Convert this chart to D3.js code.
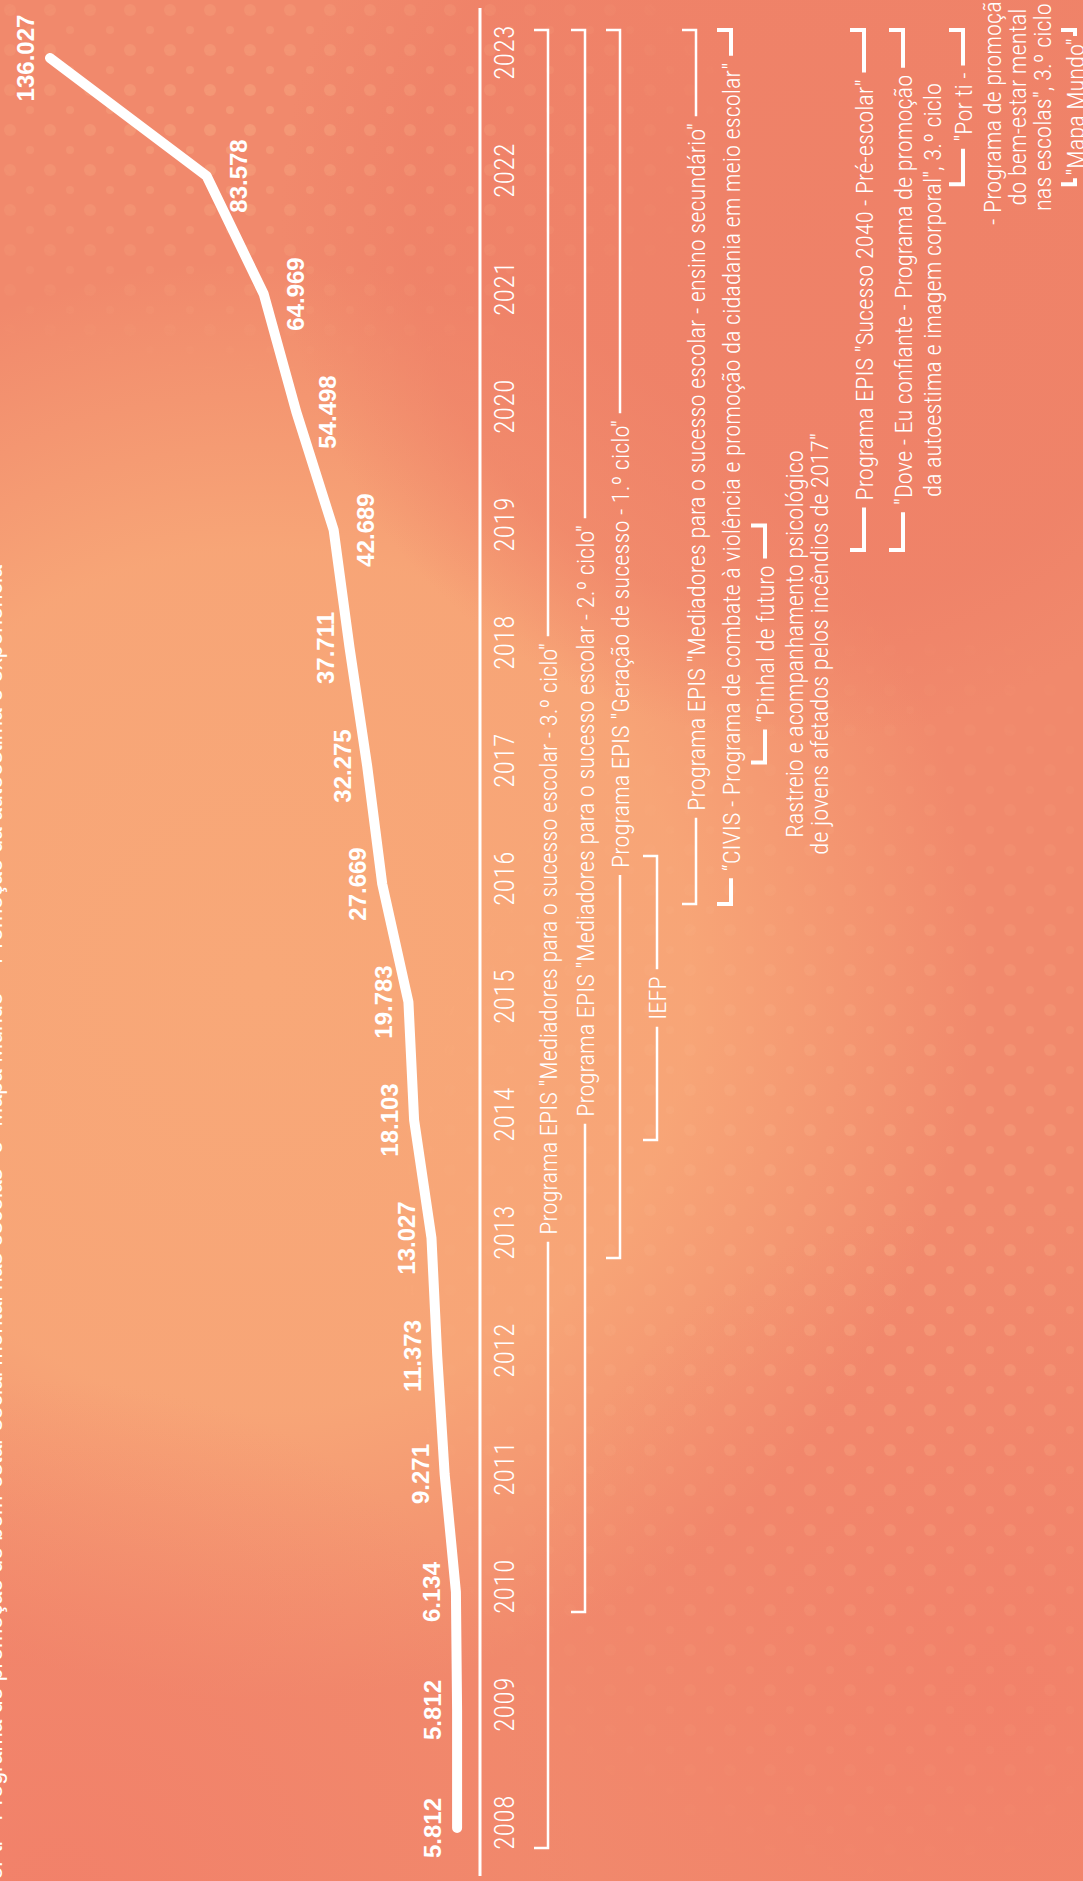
<!DOCTYPE html>
<html>
<head>
<meta charset="utf-8">
<script src="https://cdn.jsdelivr.net/npm/d3@7"></script>
<style>
  html, body { margin: 0; padding: 0; background: #F1896C; overflow: hidden; }
  svg { display: block; }
</style>
</head>
<body>
<svg id="chart"></svg>
<script>
// ---- data ----
const years = [2008, 2009, 2010, 2011, 2012, 2013, 2014, 2015, 2016, 2017, 2018, 2019, 2020, 2021, 2022, 2023];
const participants = [5812, 5812, 6134, 9271, 11373, 13027, 18103, 19783, 27669, 32275, 37711, 42689, 54498, 64969, 83578, 136027];

const programTitles = [
  'Programa EPIS "Mediadores para o sucesso escolar - 3.º ciclo"',
  'Programa EPIS "Mediadores para o sucesso escolar - 2.º ciclo"',
  'Programa EPIS "Geração de sucesso - 1.º ciclo"',
  'IEFP',
  'Programa EPIS "Mediadores para o sucesso escolar - ensino secundário"',
  '“CIVIS - Programa de combate à violência e promoção da cidadania em meio escolar"',
  '“Pinhal de futuro',
  'Programa EPIS "Sucesso 2040 - Pré-escolar"',
  '"Dove - Eu confiante - Programa de promoção',
  '"Por ti -',
  '"Mapa Mundo"'
];
const programNotes = [
  [], [], [], [], [], [],
  ['Rastreio e acompanhamento psicológico', 'de jovens afetados pelos incêndios de 2017"'],
  [],
  ['da autoestima e imagem corporal", 3.º ciclo'],
  ['- Programa de promoção', 'do bem-estar mental', 'nas escolas", 3.º ciclo'],
  []
];
const programStart = [2008, 2010, 2013, 2014, 2016, 2016, 2017.2, 2019, 2019, 2022.1, 2022.1];
const programEnd   = [2023, 2023, 2023, 2016, 2023, 2023, 2018.8, 2023, 2023, 2023, 2023];

const titleText = 'Número de alunos abrangidos pelos programas "Por ti - Programa de promoção do bem-estar social mental nas escolas" e "Mapa Mundo" - Promoção da autoestima e experiência';

// ---- layout ----
const width = 1083, height = 1881;
const axisX = 480;
const laneX = [548, 585, 620, 657, 696, 731, 765, 864, 903, 963, 1075];

const condensed = '"Roboto Condensed", "Liberation Sans Narrow", "Arial Narrow", sans-serif';

const svg = d3.select("#chart").attr("width", width).attr("height", height);

// ---- background ----
const defs = svg.append("defs");

function radial(id, color, stops) {
  const g = defs.append("radialGradient").attr("id", id);
  stops.forEach(([o, a]) => g.append("stop").attr("offset", o).attr("stop-color", color).attr("stop-opacity", a));
}
radial("peach", "#F8A878", [[0, 1], [0.6, 0.9], [1, 0]]);
radial("coral", "#EE7E66", [[0, 0.7], [0.75, 0.55], [1, 0]]);
radial("low", "#F27F69", [[0, 0.8], [1, 0]]);
radial("maskGlow", "#ffffff", [[0, 1], [1, 0]]);

const pat = defs.append("pattern").attr("id", "dots")
  .attr("width", 40).attr("height", 40).attr("patternUnits", "userSpaceOnUse");
pat.append("circle").attr("cx", 10).attr("cy", 10).attr("r", 6).attr("fill", "#FBB78C");
pat.append("circle").attr("cx", 30).attr("cy", 30).attr("r", 4).attr("fill", "#FBB78C");

const mask = defs.append("mask").attr("id", "dotMask");
mask.append("rect").attr("width", width).attr("height", height).attr("fill", "black");
mask.append("ellipse").attr("cx", 880).attr("cy", 1250).attr("rx", 520).attr("ry", 650).attr("fill", "url(#maskGlow)");
mask.append("ellipse").attr("cx", 250).attr("cy", 120).attr("rx", 500).attr("ry", 260).attr("fill", "url(#maskGlow)");

const bg = svg.append("g");
bg.append("rect").attr("width", width).attr("height", height).attr("fill", "#F1896C");
bg.append("circle").attr("cx", 260).attr("cy", 980).attr("r", 720).attr("fill", "url(#peach)");
bg.append("circle").attr("cx", 800).attr("cy", 220).attr("r", 520).attr("fill", "url(#coral)");
bg.append("circle").attr("cx", 60).attr("cy", 1900).attr("r", 520).attr("fill", "url(#low)");
bg.append("circle").attr("cx", 1000).attr("cy", 1700).attr("r", 500).attr("fill", "url(#low)");
bg.append("rect").attr("width", width).attr("height", height)
  .attr("fill", "url(#dots)").attr("opacity", 0.35).attr("mask", "url(#dotMask)");

// ---- scales ----
const y = d3.scaleLinear().domain([2008, 2023]).range([1822, 52]);
// the source's value axis is slightly compressive, a power scale fits it closely
const x = d3.scalePow().exponent(0.93).domain([0, 136027]).range([480, 50]);

const pt = d3.formatLocale({ decimal: ",", thousands: ".", grouping: [3], currency: ["€", ""] }).format(",d");

const data = years.map((yr, i) => ({ year: yr, value: participants[i] }));

// ---- cut-off title on the left edge ----
svg.append("text")
  .attr("transform", `translate(2,565) rotate(-90)`)
  .attr("text-anchor", "end")
  .attr("fill", "#fff")
  .style("font-family", '"Liberation Sans", Arial, sans-serif')
  .style("font-size", "23px")
  .text(titleText);

// ---- year axis ----
svg.append("line")
  .attr("x1", axisX).attr("x2", axisX).attr("y1", 8).attr("y2", 1876)
  .attr("stroke", "#fff").attr("stroke-width", 3);

const axis = svg.append("g")
  .attr("transform", `translate(${axisX},0)`)
  .call(d3.axisRight(y).tickValues(years).tickFormat(d3.format("d")).tickSize(0));
axis.select(".domain").remove();
axis.selectAll("text")
  .attr("x", null).attr("dy", null)
  .attr("transform", "translate(34,0) rotate(-90)")
  .attr("text-anchor", "middle")
  .attr("fill", "#fff")
  .style("font-family", condensed)
  .style("font-weight", 300)
  .style("font-size", "27px")
  .style("letter-spacing", "0.5px");

// ---- line (sits a touch below the year ticks, as in the source) ----
const plot = svg.append("g").attr("transform", "translate(0,6)");

const line = d3.line().x(d => x(d.value)).y(d => y(d.year));
plot.append("path")
  .datum(data)
  .attr("d", line)
  .attr("fill", "none")
  .attr("stroke", "#fff")
  .attr("stroke-width", 10)
  .attr("stroke-linecap", "round")
  .attr("stroke-linejoin", "round");

// value labels: most sit on the outer side of the line, the steep 2019-2022 stretch on the inner side
const labelInside = yr => yr >= 2019 && yr <= 2022;
plot.append("g").selectAll("text")
  .data(data)
  .join("text")
  .attr("transform", d => `translate(${x(d.value) + (labelInside(d.year) ? 40 : -16)},${y(d.year)}) rotate(-90)`)
  .attr("text-anchor", "middle")
  .attr("fill", "#fff")
  .style("font-family", '"Liberation Sans", Arial, sans-serif')
  .style("font-weight", "bold")
  .style("font-size", "24px")
  .text(d => pt(d.value));

// ---- programme brackets ----
const ann = svg.append("g")
  .attr("fill", "#fff")
  .style("font-family", condensed)
  .style("font-weight", 300)
  .style("font-size", "24.5px");

programTitles.forEach((title, i) => {
  const lx = laneX[i];
  const yTop = y(programEnd[i]) - 22;
  const yBot = y(programStart[i]) + 26;
  const yMid = (yTop + yBot) / 2;
  const g = ann.append("g");

  const t = g.append("text")
    .attr("transform", `translate(${lx},${yMid}) rotate(-90)`)
    .attr("text-anchor", "middle")
    .attr("dy", "0.35em")
    .text(title);
  const half = t.node().getComputedTextLength() / 2 + 7;

  const a = Math.max(yTop + 6, yMid - half);
  const b = Math.min(yBot - 6, yMid + half);
  g.append("path")
    .attr("d", `M${lx - 14},${yTop}H${lx}V${a}M${lx},${b}V${yBot}H${lx - 14}`)
    .attr("fill", "none")
    .attr("stroke", "#fff")
    .attr("stroke-width", i >= 5 ? 4 : 2.5);

  programNotes[i].forEach((note, k) => {
    g.append("text")
      .attr("transform", `translate(${lx + 29 + k * 25},${yMid}) rotate(-90)`)
      .attr("text-anchor", "middle")
      .attr("dy", "0.35em")
      .text(note);
  });
});
</script>
</body>
</html>
